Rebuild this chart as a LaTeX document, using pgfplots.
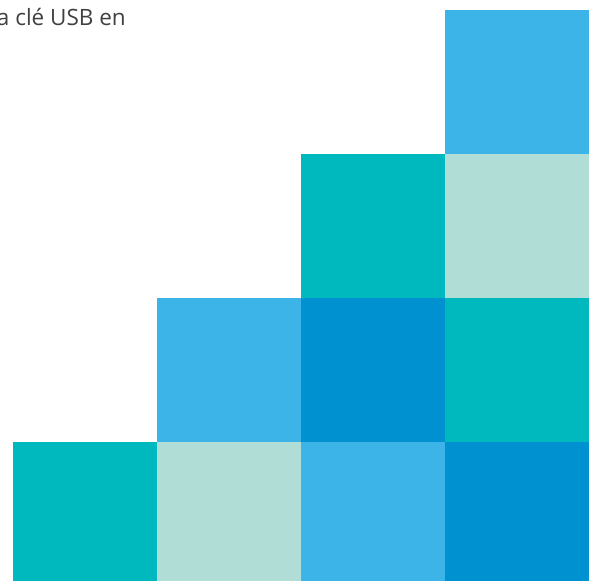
\documentclass[border=0pt]{standalone}
\usepackage{pgfplots}
\pgfplotsset{compat=1.18}
\usepackage{fontspec}
\setmainfont{Open Sans}
\definecolor{cteal}{HTML}{00B9BE}
\definecolor{clight}{HTML}{3DB4E7}
\definecolor{cdark}{HTML}{0091D0}
\definecolor{cmint}{HTML}{B0DED6}
\definecolor{ctext}{HTML}{404040}
\begin{document}
\begin{tikzpicture}
\useasboundingbox (0,0) rectangle (600pt,581pt);
\clip (0,0) rectangle (600pt,581pt);
\begin{axis}[
  at={(13pt,-5pt)}, anchor=south west,
  scale only axis, width=576pt, height=576pt,
  xmin=-0.5, xmax=3.5, ymin=0, ymax=4,
  axis lines=none, ticks=none,
  ybar, bar width=1, bar shift=0pt,
  every axis plot/.append style={draw=none},
  clip=false,
]
% column 0
\addplot[fill=cteal] coordinates {(0,1)};
% column 1 (cumulative tops, drawn top first)
\addplot[fill=clight] coordinates {(1,2)};
\addplot[fill=cmint] coordinates {(1,1)};
% column 2
\addplot[fill=cteal] coordinates {(2,3)};
\addplot[fill=cdark] coordinates {(2,2)};
\addplot[fill=clight] coordinates {(2,1)};
% column 3
\addplot[fill=clight] coordinates {(3,4)};
\addplot[fill=cmint] coordinates {(3,3)};
\addplot[fill=cteal] coordinates {(3,2)};
\addplot[fill=cdark] coordinates {(3,1)};
\end{axis}
\node[anchor=base east, inner sep=0pt, text=ctext, font=\fontsize{22.5pt}{26pt}\selectfont] at (126pt,555pt) {a clé USB en};
\end{tikzpicture}
\end{document}
